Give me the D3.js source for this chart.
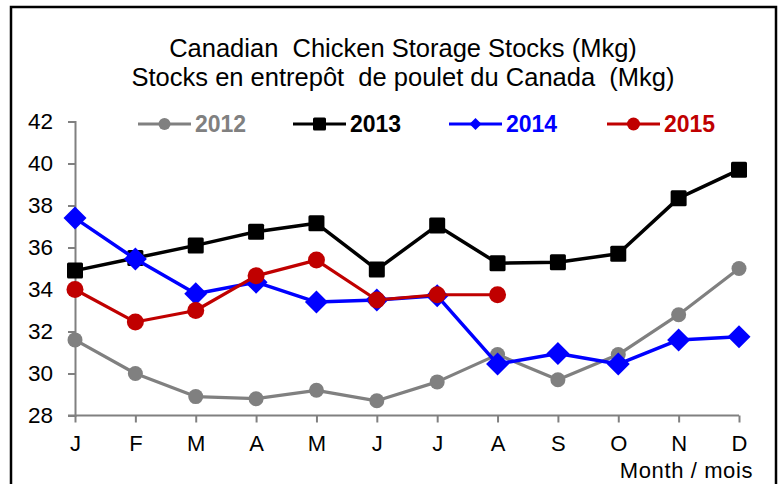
<!DOCTYPE html>
<html><head><meta charset="utf-8">
<script src="https://cdn.jsdelivr.net/npm/d3@7"></script>
<style>body{margin:0;background:#fff}svg{display:block}text{font-family:"Liberation Sans",Arial,sans-serif;white-space:pre}</style>
</head><body>
<svg id="c" width="783" height="484"></svg>
<script>
const months = ["J","F","M","A","M","J","J","A","S","O","N","D"];
const yTicks = [28,30,32,34,36,38,40,42];
const s2012 = [31.6,30.0,28.9,28.8,29.2,28.7,29.6,30.9,29.7,30.9,32.8,35.0];
const s2013 = [34.9,35.5,36.1,36.75,37.15,34.95,37.05,35.25,35.3,35.7,38.35,39.7];
const s2014 = [37.4,35.45,33.8,34.35,33.4,33.5,33.7,30.45,30.95,30.45,31.6,31.75];
const s2015 = [34.0,32.45,33.0,34.65,35.4,33.5,33.75,33.75];
const seriesNames = ["2012","2013","2014","2015"];
const seriesColors = ["#808080","#000000","#0000FF","#C00000"];
const seriesShapes = ["circle","square","diamond","circle"];
const title1 = "Canadian  Chicken Storage Stocks (Mkg)";
const title2 = "Stocks en entrepôt  de poulet du Canada  (Mkg)";
const xTitle = "Month / mois";

const svg = d3.select("#c");
svg.append("rect").attr("x",11).attr("y",7).attr("width",765).attr("height",490)
  .attr("fill","#fff").attr("stroke","#000").attr("stroke-width",2.5);

svg.append("text").attr("x",403).attr("y",57).attr("text-anchor","middle").attr("font-size",25.5).text(title1);
svg.append("text").attr("x",403).attr("y",86).attr("text-anchor","middle").attr("font-size",25.5).text(title2);

const idx = d3.range(12);
const x = d3.scalePoint().domain(idx).range([75,739]);
const y = d3.scaleLinear().domain([28,42]).range([415.5,121.5]);

// y axis
const ya = svg.append("g").attr("transform","translate(75,0)")
  .call(d3.axisLeft(y).tickValues(yTicks).tickSize(7).tickPadding(15).tickFormat(d3.format("d")));
ya.select(".domain").attr("stroke","#808080").attr("stroke-width",2);
ya.selectAll(".tick line").attr("stroke","#808080").attr("stroke-width",2);
ya.selectAll(".tick text").attr("font-size",22.5).attr("fill","#000").attr("font-family","Liberation Sans, Arial, sans-serif");

// x axis
const xa = svg.append("g").attr("transform","translate(0,415.5)")
  .call(d3.axisBottom(x).tickSize(7).tickPadding(13).tickFormat(i=>months[i]));
xa.select(".domain").attr("stroke","#808080").attr("stroke-width",2).attr("d","M68,0H739");
xa.selectAll(".tick line").attr("stroke","#808080").attr("stroke-width",2);
xa.selectAll(".tick text").attr("font-size",22).attr("fill","#000").attr("font-family","Liberation Sans, Arial, sans-serif");

svg.append("text").attr("x",753).attr("y",478).attr("text-anchor","end").attr("font-size",22).attr("letter-spacing",0.6).text(xTitle);

function marker(g, shape, cx, cy, size, color){
  if(shape==="circle") g.append("circle").attr("cx",cx).attr("cy",cy).attr("r",size/2).attr("fill",color);
  else if(shape==="square") g.append("rect").attr("x",cx-size/2).attr("y",cy-size/2).attr("width",size).attr("height",size).attr("rx",1.5).attr("fill",color);
  else g.append("path").attr("d",`M${cx},${cy-size/2}L${cx+size/2},${cy}L${cx},${cy+size/2}L${cx-size/2},${cy}Z`).attr("fill",color);
}

const allSeries = [s2012,s2013,s2014,s2015];
const lineW = [3.2,3.5,3.5,3.2];
const mSize = [15,16,23,17];
const line = d3.line().x((d,i)=>x(i)).y(d=>y(d));
allSeries.forEach((data,k)=>{
  const g = svg.append("g");
  g.append("path").datum(data).attr("d",line).attr("fill","none")
    .attr("stroke",seriesColors[k]).attr("stroke-width",lineW[k]).attr("stroke-linejoin","round");
  data.forEach((v,i)=>marker(g,seriesShapes[k],x(i),y(v),mSize[k],seriesColors[k]));
});

// legend
const legX = [138,293,449,607];
const legMs = [12,13,12,13];
seriesNames.forEach((n,k)=>{
  const g = svg.append("g");
  const ly = 124;
  g.append("line").attr("x1",legX[k]).attr("x2",legX[k]+53).attr("y1",ly).attr("y2",ly)
    .attr("stroke",seriesColors[k]).attr("stroke-width",3);
  marker(g,seriesShapes[k],legX[k]+26.5,ly,legMs[k],seriesColors[k]);
  g.append("text").attr("x",legX[k]+57).attr("y",ly+8).attr("font-size",23).attr("font-weight","bold")
    .attr("fill",seriesColors[k]).text(n);
});
</script>
</body></html>
